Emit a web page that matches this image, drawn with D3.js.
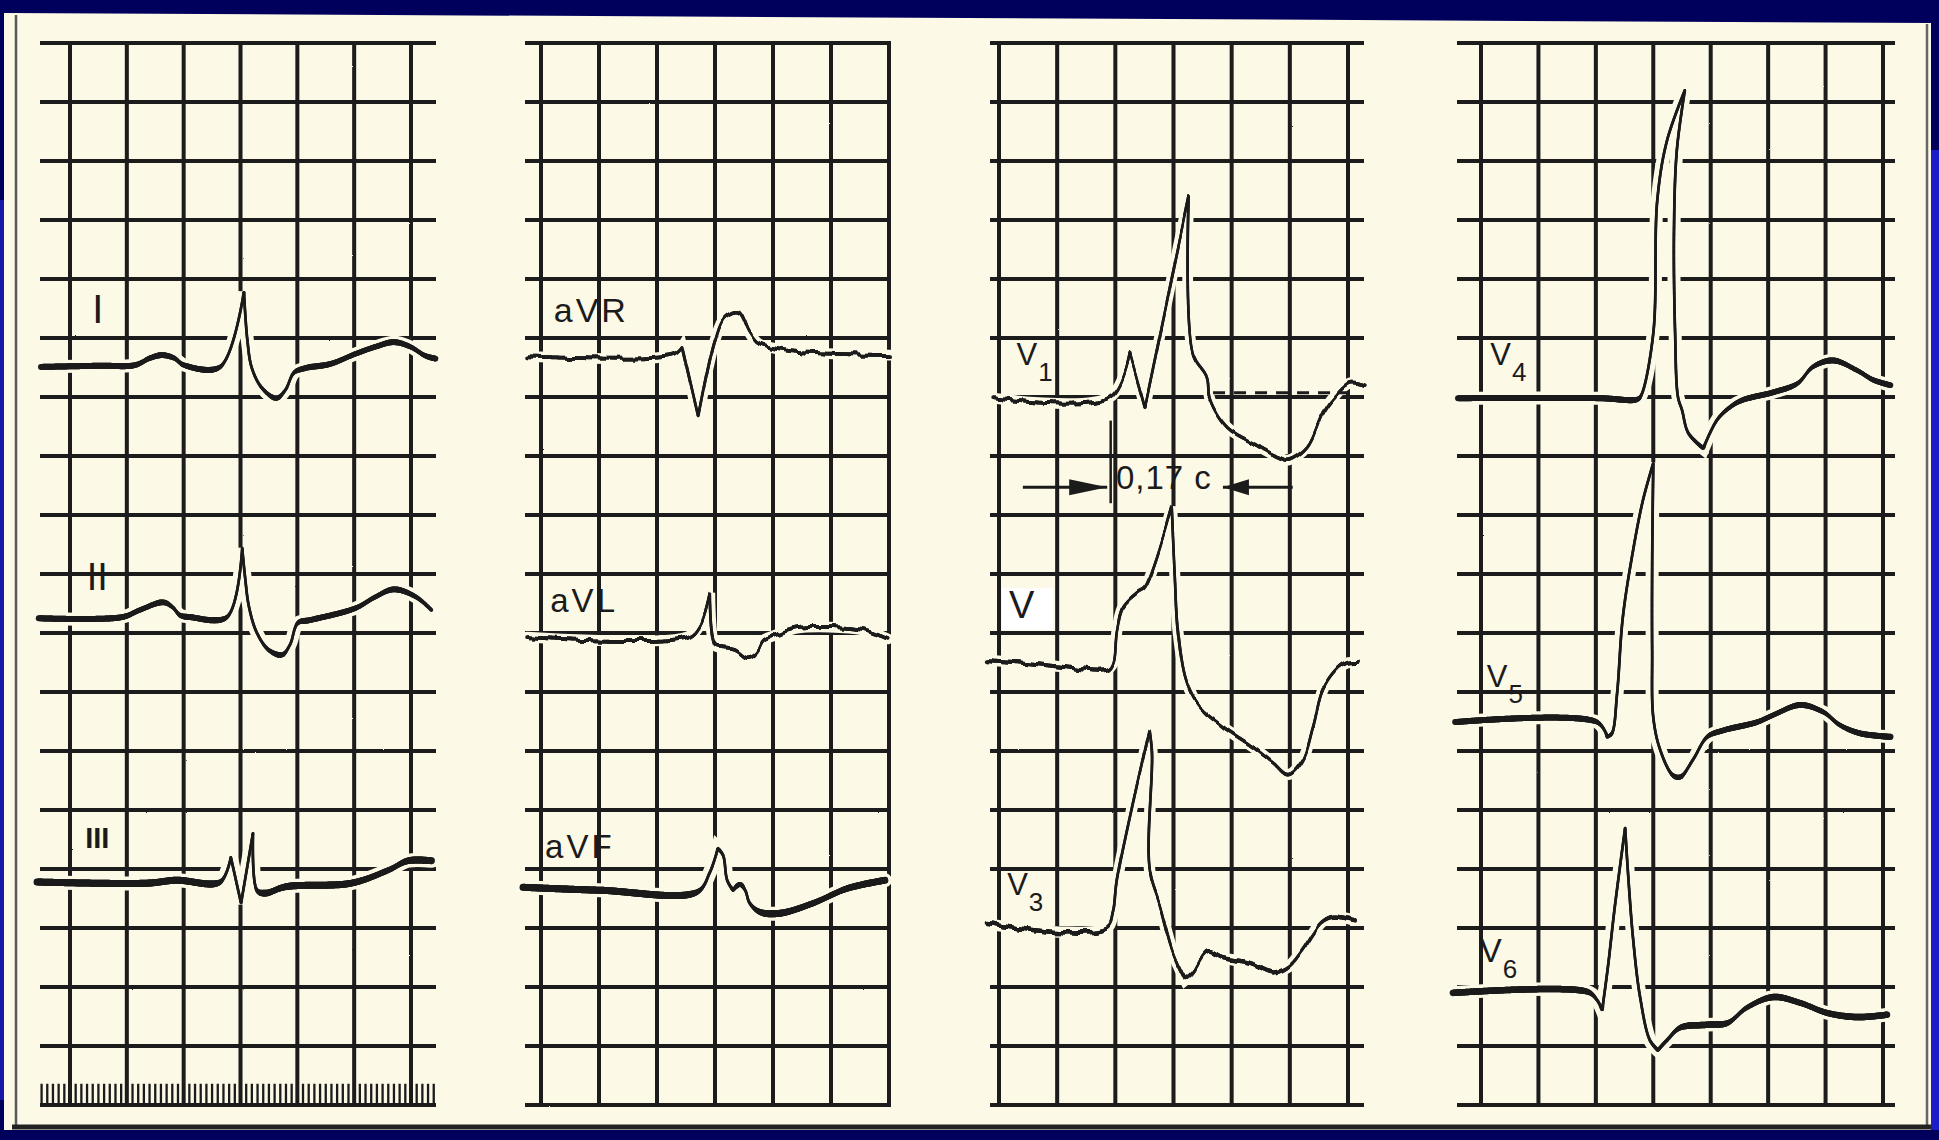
<!DOCTYPE html>
<html><head><meta charset="utf-8">
<script src="https://cdn.jsdelivr.net/npm/d3@7"></script>
<style>html,body{margin:0;padding:0;background:#00005a;overflow:hidden}</style>
</head><body>
<svg id="c" width="1939" height="1140"></svg>
<script>
// ---------------- DATA (time in large boxes from panel's first gridline, amplitude in large boxes, + = up) ----------------
const leadNames = ["I","II","III","aVR","aVL","aVF","V1","V2","V3","V4","V5","V6"];
const labelMain = ["I","II","III","aVR","aVL","aVF","V","V","V","V","V","V"];
const labelSub  = ["","","","","","","1","","3","4","5","6"];
const leadI  = [[-0.51,0],[0.53,0.02],[1.14,0.03],[1.41,0.15],[1.62,0.2],[1.83,0.15],[2.01,0.03],[2.64,0],[3.06,1.27],[3.12,0.46],[3.2,-0.02],[3.38,-0.36],[3.63,-0.53],[3.79,-0.39],[3.94,-0.1],[4.14,-0.02],[4.58,0.05],[5.02,0.22],[5.37,0.34],[5.7,0.42],[5.99,0.34],[6.25,0.19],[6.43,0.14]];
const leadII = [[-0.55,-0.02],[0.92,0],[1.23,0.12],[1.64,0.25],[1.8,0.17],[1.94,0.03],[2.11,0],[2.76,0],[3.03,1.17],[3.08,0.68],[3.15,0.17],[3.29,-0.27],[3.5,-0.56],[3.73,-0.64],[3.87,-0.47],[4.01,-0.1],[4.23,-0.05],[5.02,0.15],[5.37,0.34],[5.7,0.47],[6.09,0.34],[6.36,0.12]];
const leadIII= [[-0.58,0],[1.36,-0.02],[1.87,0.03],[2.64,0],[2.83,0.42],[3.01,-0.36],[3.22,0.83],[3.29,-0.14],[3.43,-0.19],[3.8,-0.08],[4.95,-0.02],[5.6,0.2],[5.95,0.36],[6.36,0.36]];
const leadAVR= [[-0.24,0],[2.28,0.02],[2.43,0.15],[2.71,-1.05],[3.0,0.27],[3.17,0.66],[3.4,0.75],[3.6,0.39],[3.74,0.22],[4.0,0.14],[4.47,0.07],[6.02,0.02]];
const leadAVL= [[-0.24,0],[2.52,0],[2.74,0.2],[2.91,0.75],[3.0,-0.14],[3.12,-0.17],[3.34,-0.2],[3.57,-0.34],[3.72,-0.25],[3.84,-0.05],[4.03,0.03],[4.41,0.15],[4.98,0.17],[5.55,0.12],[5.98,-0.03]];
const leadAVF= [[-0.31,0],[1.02,-0.05],[2.69,-0.08],[2.91,0.25],[3.05,0.66],[3.14,0.54],[3.21,0.12],[3.31,-0.05],[3.43,0.05],[3.52,-0.05],[3.6,-0.27],[3.78,-0.42],[4.12,-0.44],[4.69,-0.27],[5.28,-0.02],[5.93,0.12]];
const leadV1 = [[-0.1,-0.02],[1.91,0],[2.25,0.75],[2.51,-0.17],[3.26,3.39],[3.33,0.75],[3.57,0.34],[3.63,-0.05],[3.92,-0.51],[4.36,-0.78],[4.83,-1.03],[4.97,-1.07],[5.29,-0.85],[5.57,-0.27],[5.74,-0.02],[6.03,0.24],[6.29,0.2]];
const leadV2 = [[-0.21,0.08],[0.48,0.03],[1.05,-0.03],[1.86,-0.08],[1.96,0.03],[2.03,0.59],[2.13,0.98],[2.37,1.22],[2.51,1.32],[2.97,2.68],[3.02,1.56],[3.08,0.54],[3.23,-0.31],[3.45,-0.71],[3.85,-1.05],[4.36,-1.39],[4.71,-1.66],[4.97,-1.86],[5.22,-1.61],[5.4,-1.05],[5.57,-0.42],[5.81,-0.08],[5.98,0.03],[6.17,0.05]];
const leadV3 = [[-0.21,0.02],[1.05,-0.12],[1.86,-0.05],[1.96,0.2],[2.03,0.76],[2.59,3.31],[2.63,2.92],[2.59,0.93],[2.77,0.31],[2.99,-0.47],[3.2,-0.93],[3.33,-0.81],[3.59,-0.46],[3.85,-0.56],[4.31,-0.64],[4.71,-0.8],[4.97,-0.71],[5.22,-0.42],[5.4,-0.14],[5.55,0.05],[5.74,0.14],[6.12,0.08]];
const leadV4 = [[-0.4,0],[2.07,0],[2.72,-0.02],[2.79,0.05],[3.0,1.1],[3.07,3.36],[3.24,4.37],[3.55,5.22],[3.41,4.2],[3.36,2.8],[3.38,1.1],[3.43,0.02],[3.5,-0.2],[3.61,-0.59],[3.87,-0.85],[4.11,-0.37],[4.34,-0.15],[4.56,-0.03],[5.09,0.1],[5.51,0.25],[5.78,0.53],[6.13,0.64],[6.55,0.47],[6.83,0.31],[7.13,0.22]];
const leadV5 = [[-0.45,0],[2.02,0],[2.2,-0.25],[2.28,-0.19],[2.37,0.49],[2.47,1.78],[2.65,2.92],[2.82,3.76],[3.0,4.39],[2.98,2.63],[2.98,1.22],[3.0,0.08],[3.12,-0.47],[3.34,-0.9],[3.47,-0.93],[3.69,-0.64],[3.94,-0.25],[4.22,-0.14],[4.81,0],[5.09,0.12],[5.56,0.29],[5.96,0.17],[6.25,-0.05],[6.6,-0.19],[7.13,-0.25]];
const leadV6 = [[-0.49,0],[1.85,0.02],[2.02,-0.12],[2.11,-0.29],[2.21,0.44],[2.33,1.46],[2.51,2.8],[2.56,2.03],[2.65,0.9],[2.77,-0.07],[2.94,-0.8],[3.08,-0.97],[3.24,-0.8],[3.47,-0.59],[3.94,-0.54],[4.29,-0.51],[4.63,-0.25],[5.09,-0.07],[5.56,-0.17],[6.03,-0.34],[6.55,-0.41],[7.07,-0.37]];
const traces = [leadI,leadII,leadIII,leadAVR,leadAVL,leadAVF,leadV1,leadV2,leadV3,leadV4,leadV5,leadV6];
const intervalText = "0,17 с";           // QRS duration annotation in V1
const intervalStart = 1.86, intervalEnd = 3.85; // boxes, panel 3
const gridRowCount = 18;                  // horizontal box rows
const panelColCount = [6,6,6,7];
const timingMarkStep = 0.1;               // boxes between timing marks (panel 1)

// ---------------- LAYOUT / STYLE ----------------
const W = 1939, H = 1140;
const ink = "#1b1b1b", paper = "#fcf9e6";
const panelX = [[70,411],[541,889],[999,1348],[1481,1883]];
const panelHX = [[40,436],[525,891],[990,1364],[1457,1895]];
const yTop = 43, yBot = 1105;
const leadPanel = [0,0,0,1,1,1,2,2,2,3,3,3];
const leadBase  = [5.49,9.73,14.22,5.31,10.07,14.31,6.0,10.54,14.95,6.02,11.51,16.10];
const leadWMax  = [6,6,7,3.8,3.8,7,3.8,4,4.4,6,6,6.5];
const leadWMin  = 2.7;
const leadTremor= [false,false,false,true,true,false,true,true,true,false,false,false];
const labelPos  = [[0.49,4.75],[0.48,9.27],[0.48,13.64],[0.22,4.73],[0.16,9.64],[0.07,13.81],[0.3,5.46],[0.17,9.75],[0.14,14.44],[0.16,5.46],[0.10,10.92],[-0.02,15.58]];
const labelSize = [40,38,29,34,33,33,31,38,31,31,31,33];
const labelAnchor=["middle","middle","middle","start","start","start","start","start","start","start","start","start"];

const svg = d3.select("#c");
const defs = svg.append("defs");
// tremor (AC ripple) rendering filter: vertical-only displacement varying along x
const f = defs.append("filter").attr("id","tremor").attr("filterUnits","userSpaceOnUse")
  .attr("x",0).attr("y",0).attr("width",W).attr("height",H);
f.append("feTurbulence").attr("type","fractalNoise").attr("baseFrequency","0.11 0.004").attr("numOctaves",1).attr("seed",3).attr("result","n");
f.append("feColorMatrix").attr("in","n").attr("type","matrix")
  .attr("values","0 0 0 0 0.5  0 1 0 0 0  0 0 0 0 0  0 0 0 0 1").attr("result","m");
f.append("feDisplacementMap").attr("in","SourceGraphic").attr("in2","m").attr("scale",9)
  .attr("xChannelSelector","R").attr("yChannelSelector","G");
// slight print roughness for the grid
const fr = defs.append("filter").attr("id","rough").attr("filterUnits","userSpaceOnUse")
  .attr("x",0).attr("y",0).attr("width",W).attr("height",H);
fr.append("feTurbulence").attr("type","fractalNoise").attr("baseFrequency","0.35").attr("numOctaves",1).attr("seed",7).attr("result","n");
fr.append("feDisplacementMap").attr("in","SourceGraphic").attr("in2","n").attr("scale",1.6)
  .attr("xChannelSelector","R").attr("yChannelSelector","G");

const yScale = d3.scaleLinear().domain([0, gridRowCount]).range([yTop, yBot]);
const xScales = panelX.map((r,i)=>d3.scaleLinear().domain([0,panelColCount[i]]).range(r));

// ---- frame ----
svg.append("rect").attr("width",W).attr("height",H).attr("fill","#00005c");
svg.append("rect").attr("x",0).attr("y",200).attr("width",7).attr("height",900).attr("fill","#1717a8");
svg.append("rect").attr("x",1929).attr("y",150).attr("width",10).attr("height",980).attr("fill","#1c1cc8");
svg.append("path").attr("d",`M4,13 L1931,23 L1931,1130 L4,1130 Z`).attr("fill",paper);
svg.append("line").attr("x1",16).attr("y1",15).attr("x2",16).attr("y2",1128).attr("stroke","#5a5a5a").attr("stroke-width",2.5);
svg.append("line").attr("x1",1927).attr("y1",24).attr("x2",1927).attr("y2",1128).attr("stroke","#666").attr("stroke-width",2.5);
svg.append("line").attr("x1",12).attr("y1",1127).attr("x2",1931).attr("y2",1127).attr("stroke","#222").attr("stroke-width",5);

// ---- grids ----
const grid = svg.append("g").attr("stroke",ink).attr("stroke-width",4).attr("filter","url(#rough)");
panelX.forEach((r,pi)=>{
  const xs = xScales[pi];
  d3.range(gridRowCount+1).forEach(k=>{
    grid.append("line").attr("x1",panelHX[pi][0]).attr("x2",panelHX[pi][1]).attr("y1",yScale(k)).attr("y2",yScale(k));
  });
  d3.range(panelColCount[pi]+1).forEach(c=>{
    grid.append("line").attr("x1",xs(c)).attr("x2",xs(c)).attr("y1",yTop).attr("y2",yBot);
  });
});
// timing marks on panel 1
const tm = svg.append("g").attr("stroke",ink).attr("stroke-width",2.3);
d3.range(-0.5, 6.45, timingMarkStep).forEach(t=>{
  tm.append("line").attr("x1",xScales[0](t)).attr("x2",xScales[0](t)).attr("y1",yScale(gridRowCount-0.36)).attr("y2",yScale(gridRowCount));
});

// ---- traces ----
const haloG = svg.append("g"), traceG = svg.append("g");
function tracePath(pts, xs, base){
  const px = pts.map(d=>[xs(d[0]), yScale(base-d[1])]);
  // split at sharp turns so spikes stay pointed
  const cuts = [0];
  for(let j=1;j<px.length-1;j++){
    const ax=px[j][0]-px[j-1][0], ay=px[j][1]-px[j-1][1], bx=px[j+1][0]-px[j][0], by=px[j+1][1]-px[j][1];
    const c=(ax*bx+ay*by)/((Math.hypot(ax,ay)*Math.hypot(bx,by))||1);
    if(c<0) cuts.push(j);
  }
  cuts.push(px.length-1);
  const line = d3.line().curve(d3.curveCatmullRom.alpha(0.5));
  let s = "";
  for(let k=0;k<cuts.length-1;k++){
    const seg = line(px.slice(cuts[k], cuts[k+1]+1));
    s += (k===0) ? seg : seg.replace(/^M[^A-Za-z]*/, "");
  }
  return s;
}
traces.forEach((pts,i)=>{
  const xs = xScales[leadPanel[i]], base = leadBase[i];
  const dStr = tracePath(pts, xs, base);
  const tmp = svg.append("path").attr("d",dStr).attr("fill","none");
  const node = tmp.node(), L = node.getTotalLength();
  const out = [];
  for(let s=0;s<=L;s+=1.2) out.push(node.getPointAtLength(s));
  out.push(node.getPointAtLength(L));
  tmp.remove();
  haloG.append("path").attr("d",dStr).attr("fill","none").attr("stroke",paper).attr("stroke-width",leadWMax[i]+7).attr("stroke-linecap","round");
  // width from local direction: slow (horizontal) = thick, fast (vertical) = thin
  const ks = [];
  for(let j=1;j<out.length;j++){
    const dx=out[j].x-out[j-1].x, dy=out[j].y-out[j-1].y, ds=Math.hypot(dx,dy)||1;
    ks.push(Math.pow(Math.abs(dx)/ds,4));
  }
  const sm = ks.map((k,j)=>d3.mean(ks.slice(Math.max(0,j-3),j+4)));
  const g = traceG.append("g").attr("class","lead-"+leadNames[i]);
  if(leadTremor[i]) g.attr("filter","url(#tremor)");
  for(let j=1;j<out.length;j++){
    const w = leadWMin + (leadWMax[i]-leadWMin)*sm[j-1];
    g.append("line").attr("x1",out[j-1].x).attr("y1",out[j-1].y).attr("x2",out[j].x).attr("y2",out[j].y)
      .attr("stroke",ink).attr("stroke-width",w).attr("stroke-linecap","round");
  }
});

// ---- V1 isoelectric dashed line and QRS interval annotation ----
const x3 = xScales[2];
svg.append("line").attr("x1",x3(3.68)).attr("x2",x3(6.0)).attr("y1",yScale(leadBase[6]-0.07)).attr("y2",yScale(leadBase[6]-0.07))
  .attr("stroke",ink).attr("stroke-width",3).attr("stroke-dasharray","12,9");
const ay = yScale(7.53);
const ann = svg.append("g").attr("stroke",ink).attr("fill",ink);
ann.append("line").attr("x1",x3(0.41)).attr("x2",x3(intervalStart)).attr("y1",ay).attr("y2",ay).attr("stroke-width",3);
ann.append("path").attr("d",`M${x3(intervalStart)},${ay} L${x3(intervalStart)-38},${ay-8} L${x3(intervalStart)-38},${ay+8} Z`).attr("stroke","none");
ann.append("line").attr("x1",x3(5.05)).attr("x2",x3(intervalEnd)).attr("y1",ay).attr("y2",ay).attr("stroke-width",3);
ann.append("path").attr("d",`M${x3(intervalEnd)},${ay} L${x3(intervalEnd)+26},${ay-8} L${x3(intervalEnd)+26},${ay+8} Z`).attr("stroke","none");
ann.append("line").attr("x1",x3(1.92)).attr("x2",x3(1.92)).attr("y1",yScale(6.4)).attr("y2",yScale(7.8)).attr("stroke-width",2.5);
svg.append("text").attr("x",x3(2.01)).attr("y",yScale(7.56)).attr("font-family","Liberation Sans, Arial, sans-serif")
  .attr("font-size",33).attr("letter-spacing",1).attr("fill",ink).text(intervalText);

// ---- V2 label patch ----
svg.append("rect").attr("x",x3(0.05)).attr("y",yScale(9.24)).attr("width",x3(0.93)-x3(0.05)).attr("height",yScale(9.95)-yScale(9.24)).attr("fill","#ffffff");

// ---- labels ----
labelMain.forEach((m,i)=>{
  const xs = xScales[leadPanel[i]];
  const t = svg.append("text").attr("x",xs(labelPos[i][0])).attr("y",yScale(labelPos[i][1]))
    .attr("font-family","Liberation Sans, Arial, sans-serif").attr("font-size",labelSize[i]).attr("fill",ink)
    .attr("text-anchor",labelAnchor[i]).attr("letter-spacing", i>=3&&i<=5 ? 3 : 0)
    .attr("font-weight", i===2 ? "bold" : "normal");
  t.append("tspan").text(m);
  if(labelSub[i]) t.append("tspan").attr("dx",1).attr("dy",16).attr("font-size",26).text(labelSub[i]);
});
</script>
</body></html>
